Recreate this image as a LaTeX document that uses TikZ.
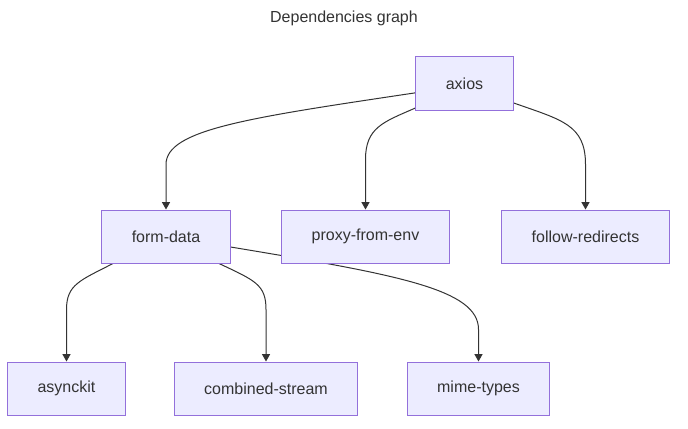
\documentclass[tikz,border=0pt]{standalone}
\usepackage{fontspec}
\setmainfont{Liberation Sans}
\usetikzlibrary{arrows.meta,calc,positioning,backgrounds}
\definecolor{depink}{HTML}{333333}
\definecolor{depfill}{HTML}{ECECFF}
\definecolor{depborder}{HTML}{9370DB}
\tikzset{
  every picture/.style={font=\fontsize{12pt}{14pt}\selectfont,text=depink},
  package/.style={rectangle,draw=depborder,fill=depfill,line width=0.75pt,
    minimum height=39.75pt,inner xsep=22.5pt,inner ysep=0pt},
  dep/.style={draw=depink,line width=0.75pt,
    -{Triangle[length=5.5pt,width=6pt]}},
  title/.style={font=\fontsize{12pt}{14pt}\selectfont},
}
\begin{document}
\begin{tikzpicture}[x=0.75pt,y=-0.75pt]
  \path[use as bounding box] (0,0) rectangle (688,428);
  \node[title] (heading) at (344,18) {Dependencies graph};
  % packages
  \node[package] (axios) at (464.5,83.5) {axios};
  \node[package] (formdata) at (166,236.5) {form-data};
  \node[package] (proxy) at (365.5,236.5) {proxy-from-env};
  \node[package] (follow) at (585.5,236.5) {follow-redirects};
  \node[package] (asynckit) at (66.5,388.5) {asynckit};
  \node[package] (combined) at (266,388.5) {combined-stream};
  \node[package] (mime) at (478.5,388.5) {mime-types};
  % Edges go on the background layer so the boxes cover them.
  \begin{scope}[on background layer]
    \path[dep] ([yshift=-7pt]axios.west) .. controls +(-167,25) and +(0,-35) ..
      ([yshift=33.75pt]formdata.north) -- (formdata.north);
    \path[dep] ([yshift=-18.4pt]axios.west) .. controls +(-32,14) and +(0,-32) ..
      ([yshift=37.5pt]proxy.north) -- (proxy.north);
    \path[dep] ([yshift=-14.6pt]axios.east) .. controls +(48,17) and +(0,-40) ..
      ([yshift=33.75pt]follow.north) -- (follow.north);
    \path[dep] ([xshift=-39.75pt]formdata.south) .. controls +(-33,17) and +(0,-25) ..
      ([yshift=39pt]asynckit.north) -- (asynckit.north);
    \path[dep] ([xshift=39.75pt]formdata.south) .. controls +(36,17) and +(0,-25) ..
      ([yshift=39pt]combined.north) -- (combined.north);
    \path[dep] ([yshift=-7.9pt]formdata.east) .. controls +(169,28) and +(0,-40) ..
      ([yshift=24pt]mime.north) -- (mime.north);
  \end{scope}
\end{tikzpicture}
\end{document}
